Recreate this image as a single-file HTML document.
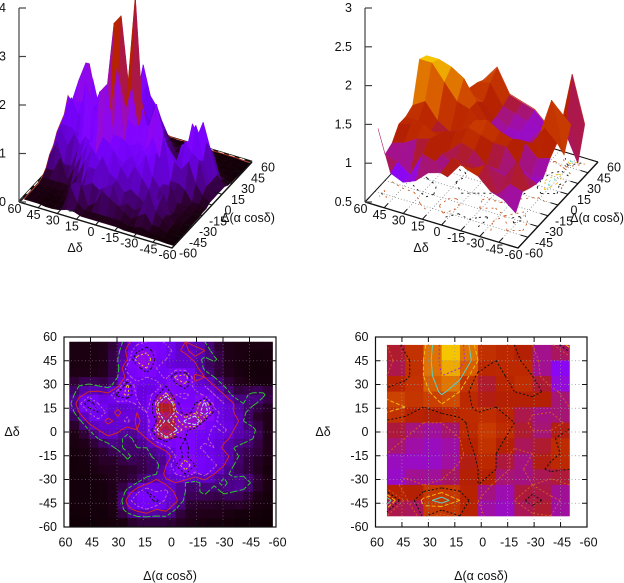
<!DOCTYPE html>
<html>
<head>
<meta charset="utf-8">
<title>Surface and map plots</title>
<style>
html,body{margin:0;padding:0;background:#fff;width:624px;height:583px;overflow:hidden}
svg{display:block}
text{font-family:"Liberation Sans",sans-serif;font-size:12.5px;fill:#111}
</style>
</head>
<body>
<svg id="chart" width="624" height="583" viewBox="0 0 624 583" xmlns="http://www.w3.org/2000/svg"></svg>
<script>
// ---- data ----
const tickLabels = [60,45,30,15,0,-15,-30,-45,-60];
const leftZTicks = [0,1,2,3,4];
const rightZTicks = [0.5,1,1.5,2,2.5,3];
const raTitle = 'Δ(α cosδ)';
const decTitle = 'Δδ';

// Left map: z*10, rows from dec=+57 to -60, columns from ra=+57 to -58
const leftDec = [57,51.4,45.9,40.3,34.7,29.1,23.6,18,12.4,6.9,1.3,-4.3,-9.9,-15.4,-21,-26.6,-32.1,-37.7,-43.3,-48.9,-54.4,-60];
const leftRa = [57,51.5,46,40.6,35.1,29.6,24.1,18.7,13.2,7.7,2.2,-3.2,-8.7,-14.2,-19.7,-25.1,-30.6,-36.1,-41.6,-47,-52.5,-58];
const leftZ = [
 [.5,.5,.5,.5,1,2,6,9,10,12,9,8,7,5,4,2,1,.5,.5,.5,.5,.5],
 [.5,.5,.5,.5,1,3,8,12,15,11,13,8,6,9,7,2,1,.5,.5,.5,.5,.5],
 [.5,.5,.5,.5,1,4,7,18,19,12,10,7,9,6,3,5,1,.5,.5,.3,.3,.5],
 [.5,.5,.5,.5,1,3,12,11,16,10,9,8,7,9,3,1,1,.5,.3,.3,.3,.3],
 [.5,1,.5,1,1,4,8,13,10,12,9,17,19,6,7,4,1,1,.5,.3,.3,.3],
 [1,4,5,4,3,6,17,7,9,7,13,11,15,8,10,7,4,1,1,.5,.5,.5],
 [2,6,8,9,8,14,17,9,8,12,17,10,9,12,9,10,7,3,3,5,5,1],
 [3,9,16,10,8,9,7,11,7,17,31,14,11,13,20,8,10,7,4,5,2,1],
 [1,7,10,13,9,6,9,7,10,15,33,17,10,15,22,12,8,7,5,1,1,.5],
 [1,3,8,9,6,8,11,6,9,13,20,14,20,25,12,11,7,10,4,2,1,.5],
 [.5,1,4,7,9,8,5,7,8,18,38,20,14,10,12,9,11,7,5,5,1,.5],
 [.5,.5,1,4,6,5,3,5,7,12,15,11,13,10,11,8,8,6,6,4,1,.5],
 [.5,.5,1,1,2,5,3,4,4,6,9,12,14,11,9,10,6,4,2,3,1,.5],
 [.3,.3,.5,1,2,1,5,2,3,5,4,10,14,10,11,8,9,5,3,2,1,.5],
 [.3,.3,.5,1,1,1,2,2,3,3,7,13,19,13,10,11,7,4,2,1,.5,.3],
 [.3,.3,.3,.5,1,1,1,1,3,4,8,10,13,9,11,7,5,3,3,2,.5,.3],
 [.3,.3,.3,.3,.5,1,2,4,6,9,6,7,4,3,5,5,3,6,7,3,1,.3],
 [.3,.3,.3,.3,.5,1,5,9,13,10,11,6,4,3,5,2,5,4,3,1,.5,.3],
 [.3,.3,.3,.3,.5,1,8,13,11,14,9,8,3,1,2,1,1,2,2,1,.3,.3],
 [.3,.3,.3,.3,.3,1,6,8,10,7,8,4,1,1,1,1,1,.5,.5,.3,.3,.3],
 [.2,.2,.3,.3,.3,.5,1,3,3,3,3,2,1,1,.5,.5,.5,.3,.3,.3,.2,.2],
 [.2,.2,.2,.2,.3,.3,.5,1,1,1,1,1,.5,.5,.3,.3,.3,.2,.2,.2,.2,.2]
];
const leftLevels = [4,7,10,13,16,19,25];
const leftLevelColors = ['#30c030','#d02828','#c060c0','#101010','#e8c020','#b0f0f0','#d02828'];

// Right map: z*100, rows from dec=+55 to -53, columns from ra=+53.5 to -50
const rightDec = [55,45.2,35.4,25.5,15.7,5.9,-3.9,-13.7,-23.5,-33.4,-43.2,-53];
const rightRa = [53.5,43.2,32.8,22.5,12.1,1.8,-8.4,-18.8,-29.1,-39.5,-50];
const rightZ = [
 [100,120,125,165,170,120,115,115,100,95,138],
 [95,110,130,165,170,130,115,120,105,90,85],
 [100,110,130,160,150,110,105,125,115,78,78],
 [120,126,120,150,130,100,110,115,120,110,85],
 [140,130,115,125,125,110,115,100,105,105,100],
 [110,105,100,100,110,125,125,115,95,90,105],
 [105,100,92,92,100,130,120,110,105,110,130],
 [100,95,92,92,95,120,115,95,100,110,120],
 [85,88,90,90,105,115,115,95,105,120,115],
 [80,110,100,105,105,115,95,95,100,87,100],
 [160,95,135,156,130,100,85,100,125,105,95],
 [100,60,120,90,115,105,90,91,95,100,82]
];
const rightLevels = [100,115,130,145,160];
const rightLevelColors = ['#d05a20','#101010','#f0b810','#60d0c0','#a030d0'];

// ---- helpers ----
const NS = 'http://www.w3.org/2000/svg';
const svg = document.getElementById('chart');
function add(parent, tag, attrs, name){
  const el = document.createElementNS(NS, tag);
  for (const k in attrs) el.setAttribute(k, attrs[k]);
  
  
  parent.appendChild(el);
  return el;
}
function label(parent, x, y, s, anchor, name){
  const t = add(parent, 'text', {x:x, y:y, 'text-anchor':anchor||'middle', 'dominant-baseline':'central'}, name);
  t.textContent = s;
  return t;
}
function palette(x){
  x = Math.max(0, Math.min(1, x));
  const r = Math.sqrt(x), g = x*x*x, b = Math.max(0, Math.sin(2*Math.PI*x));
  return 'rgb(' + Math.round(r*255) + ',' + Math.round(g*255) + ',' + Math.round(b*255) + ')';
}
function meanCell(G, r, c){ return (G[r][c]+G[r][c+1]+G[r+1][c]+G[r+1][c+1])/4; }

function contours(G, levels, mapper){
  const out = [];
  levels.forEach(function(L){
    let d = '';
    for (let r=0; r<G.length-1; r++) for (let c=0; c<G[0].length-1; c++){
      const a=G[r][c], b=G[r][c+1], e=G[r+1][c+1], f=G[r+1][c];
      const pts=[];
      if ((a<L)!==(b<L)) pts.push([r, c+(L-a)/(b-a)]);
      if ((b<L)!==(e<L)) pts.push([r+(L-b)/(e-b), c+1]);
      if ((f<L)!==(e<L)) pts.push([r+1, c+(L-f)/(e-f)]);
      if ((a<L)!==(f<L)) pts.push([r+(L-a)/(f-a), c]);
      for (let i=0; i+1<pts.length; i+=2){
        const p=mapper(pts[i][0],pts[i][1]), q=mapper(pts[i+1][0],pts[i+1][1]);
        d += 'M'+p[0].toFixed(1)+' '+p[1].toFixed(1)+'L'+q[0].toFixed(1)+' '+q[1].toFixed(1);
      }
    }
    out.push(d);
  });
  return out;
}
function interp(arr, t){
  const i=Math.min(arr.length-2, Math.floor(t));
  return arr[i]+(arr[i+1]-arr[i])*(t-i);
}

// ---- 2D map panel ----
function mapPanel(opt){
  const g = add(svg, 'g', {}, opt.name);
  const sx = function(ra){ return opt.x0 + (60-ra)*(opt.x1-opt.x0)/120; };
  const sy = function(dec){ return opt.y0 + (60-dec)*(opt.y1-opt.y0)/120; };
  const G = opt.z, RA = opt.ra, DEC = opt.dec;
  const heat = add(g, 'g', {}, 'heatmap');
  for (let r=0; r<G.length-1; r++) for (let c=0; c<G[0].length-1; c++){
    const x=sx(RA[c]), y=sy(DEC[r]);
    const col = palette(opt.cb(meanCell(G,r,c)));
    add(heat, 'rect', {x:x.toFixed(2), y:y.toFixed(2), width:(sx(RA[c+1])-x+0.4).toFixed(2), height:(sy(DEC[r+1])-y+0.4).toFixed(2), fill:col}, 'heat-cell');
  }
  const mapper = function(r,c){ return [sx(interp(RA,c)), sy(interp(DEC,r))]; };
  const ds = contours(G, opt.levels, mapper);
  ds.forEach(function(d,i){
    add(g, 'path', {d:d, fill:'none', stroke:opt.colors[i], 'stroke-width':1, 'stroke-dasharray':(opt.dashes[i]||'')}, 'contour-level');
  });
  tickLabels.forEach(function(v){
    if (Math.abs(v)===60) return;
    add(g, 'line', {x1:sx(v), x2:sx(v), y1:opt.y0, y2:opt.y1, stroke:opt.gridColor, 'stroke-width':0.7, 'stroke-dasharray':'1 2.5'}, 'grid-line-x');
    add(g, 'line', {x1:opt.x0, x2:opt.x1, y1:sy(v), y2:sy(v), stroke:opt.gridColor, 'stroke-width':0.7, 'stroke-dasharray':'1 2.5'}, 'grid-line-y');
  });
  tickLabels.forEach(function(v){
    const X=sx(v), Y=sy(v);
    add(g, 'path', {d:'M'+X+' '+opt.y1+'v-5M'+X+' '+opt.y0+'v5M'+opt.x0+' '+Y+'h5M'+opt.x1+' '+Y+'h-5', stroke:'#111', 'stroke-width':1, fill:'none'}, 'tick-mark');
    label(g, X+1.5, opt.y1+15.5, String(v), 'middle', 'x-tick-label');
    label(g, opt.x0-7, Y, String(v), 'end', 'y-tick-label');
  });
  add(g, 'rect', {x:opt.x0, y:opt.y0, width:opt.x1-opt.x0, height:opt.y1-opt.y0, fill:'none', stroke:'#111', 'stroke-width':1.2}, 'plot-frame');
  label(g, opt.xTitleX, 576, raTitle, 'middle', 'x-axis-title');
  label(g, opt.yTitleX, 432, decTitle, 'middle', 'y-axis-title');
}

// ---- 3D surface panel ----
function surfacePanel(opt){
  const g = add(svg, 'g', {}, opt.name);
  const lx=opt.left[0], ly=opt.left[1];
  const P = function(ra, dec, z){
    const u=(60-dec)/120, v=(ra+60)/120;
    return [lx+153*u+80*v, ly+46*u-86*v-(z-opt.zBase)*opt.zScale];
  };
  const G=opt.z, RA=opt.ra, DEC=opt.dec;
  // base plane
  const c1=P(60,60,opt.zBase), c2=P(-60,60,opt.zBase), c3=P(-60,-60,opt.zBase), c4=P(60,-60,opt.zBase);
  tickLabels.forEach(function(v){
    if (Math.abs(v)===60) return;
    const a=P(v,60,opt.zBase), b=P(v,-60,opt.zBase), e=P(60,v,opt.zBase), f=P(-60,v,opt.zBase);
    add(g, 'line', {x1:a[0],y1:a[1],x2:b[0],y2:b[1],stroke:'#777','stroke-width':0.7,'stroke-dasharray':'1 2'}, 'base-grid-line');
    add(g, 'line', {x1:e[0],y1:e[1],x2:f[0],y2:f[1],stroke:'#777','stroke-width':0.7,'stroke-dasharray':'1 2'}, 'base-grid-line');
  });
  const baseMap=function(r,c){ return P(interp(RA,c), interp(DEC,r), opt.zBase); };
  const ds=contours(opt.rawZ, opt.levels, baseMap);
  ds.forEach(function(d,i){
    add(g,'path',{d:d,fill:'none',stroke:opt.colors[i],'stroke-width':0.9,'stroke-dasharray':'2 4'},'base-contour');
  });
  // back edges of box
  add(g,'path',{d:'M'+c2+'L'+c1+'L'+c4,fill:'none',stroke:'#111','stroke-width':opt.backWidth},'base-back-edge');
  add(g,'path',{d:'M'+c2+'L'+c1+'L'+c4,fill:'none',stroke:'#fff','stroke-width':opt.backWidth*0.45,'stroke-dasharray':opt.backDash},'base-back-edge-dash');
  // fringe lines along the rear edges
  if (opt.rearRowFringe){
    const fringe=[];
    for (let c=0;c<G[0].length;c++){ const p=P(RA[c],DEC[0],opt.zv(G[0][c])); fringe.push(p[0].toFixed(1)+','+(p[1]-0.8).toFixed(1)); }
    add(g,'polyline',{points:fringe.join(' '),fill:'none',stroke:'#c83a18','stroke-width':0.8},'surface-rear-line');
  }
  const fringe2=[];
  for (let r=0;r<G.length;r++){ const p=P(RA[0],DEC[r],opt.zv(G[r][0])); fringe2.push(p[0].toFixed(1)+','+(p[1]-0.8).toFixed(1)); }
  add(g,'polyline',{points:fringe2.join(' '),fill:'none',stroke:'#c83a18','stroke-width':0.8},'surface-rear-line');
  // surface, painter order from the back corner
  const surf=add(g,'g',{},'surface');
  for (let r=0;r<G.length-1;r++) for (let c=0;c<G[0].length-1;c++){
    const pts=[[r,c],[r,c+1],[r+1,c+1],[r+1,c]].map(function(n){
      const p=P(RA[n[1]],DEC[n[0]],opt.zv(G[n[0]][n[1]]));
      return p[0].toFixed(1)+','+p[1].toFixed(1);
    }).join(' ');
    const col=palette(opt.cb(meanCell(G,r,c)));
    add(surf,'polygon',{points:pts,fill:col,stroke:col,'stroke-width':0.4},'surface-facet');
  }
  // front axes
  add(g,'path',{d:'M'+c2+'L'+c3+'L'+c4,fill:'none',stroke:'#111','stroke-width':1.4},'base-front-edge');
  tickLabels.forEach(function(v){
    const a=P(-60,v,opt.zBase), a2=P(-54,v,opt.zBase), b=P(v,-60,opt.zBase), b2=P(v,-54,opt.zBase);
    add(g,'line',{x1:a[0],y1:a[1],x2:a2[0],y2:a2[1],stroke:'#111','stroke-width':1},'tick-mark');
    add(g,'line',{x1:b[0],y1:b[1],x2:b2[0],y2:b2[1],stroke:'#111','stroke-width':1},'tick-mark');
    label(g,a[0]-4.5,a[1]+7,String(v),'middle','dec-tick-label');
    label(g,b[0]+16,b[1]+5.5,String(v),'middle','ra-tick-label');
  });
  // z axis
  const zTop=opt.zTicks[opt.zTicks.length-1];
  add(g,'line',{x1:lx,y1:ly,x2:lx,y2:ly-(zTop-opt.zBase)*opt.zScale,stroke:'#444','stroke-width':1.2},'z-axis');
  opt.zTicks.forEach(function(v){
    const y=ly-(v-opt.zBase)*opt.zScale;
    add(g,'line',{x1:lx,y1:y,x2:lx+7,y2:y,stroke:'#444','stroke-width':1.2},'z-tick');
    label(g,lx-opt.zLabelGap,y,String(v),'end','z-tick-label');
  });
  label(g,opt.raTitleX,218,raTitle,'middle','ra-axis-title');
  label(g,opt.decTitleX,248,decTitle,'middle','dec-axis-title');
}

// ---- build ----
const leftZvalues = leftZ.map(function(r){ return r.map(function(v){ return v/10; }); });
const rightZvalues = rightZ.map(function(r){ return r.map(function(v){ return v/100; }); });

surfacePanel({name:'left-surface-panel', left:[19,202], z:leftZvalues, rawZ:leftZ, ra:leftRa, dec:leftDec,
  zBase:0, zScale:48.5, zv:function(v){return v;}, cb:function(z){return z/4.6;},
  zTicks:leftZTicks, zLabelGap:13, levels:leftLevels, colors:leftLevelColors, rearRowFringe:true,
  backWidth:2.6, backDash:'6 5', raTitleX:248, decTitleX:75});

surfacePanel({name:'right-surface-panel', left:[365,202], z:rightZvalues, rawZ:rightZ, ra:rightRa, dec:rightDec,
  zBase:0.5, zScale:77.6, zv:function(v){return v;}, cb:function(z){return (z-0.42)/1.365;},
  zTicks:rightZTicks, zLabelGap:13, levels:rightLevels, colors:rightLevelColors, rearRowFringe:false,
  backWidth:1, backDash:'0 100', raTitleX:597, decTitleX:421});

mapPanel({name:'left-map-panel', x0:64, x1:276, y0:337, y1:527, z:leftZ, ra:leftRa, dec:leftDec,
  cb:function(v){return v/50;}, levels:leftLevels, colors:leftLevelColors, gridColor:'#6a5a7a',
  dashes:['4 2','','2 2','2 2','2 2','3 1.5',''], xTitleX:170, yTitleX:12});

mapPanel({name:'right-map-panel', x0:375.5, x1:587, y0:337, y1:527, z:rightZ, ra:rightRa, dec:rightDec,
  cb:function(v){return (v/100-0.42)/1.365;}, levels:rightLevels, colors:rightLevelColors, gridColor:'#999',
  dashes:['2 2','2 2','4 2','','2 2'], xTitleX:481, yTitleX:323});
</script>
</body>
</html>
